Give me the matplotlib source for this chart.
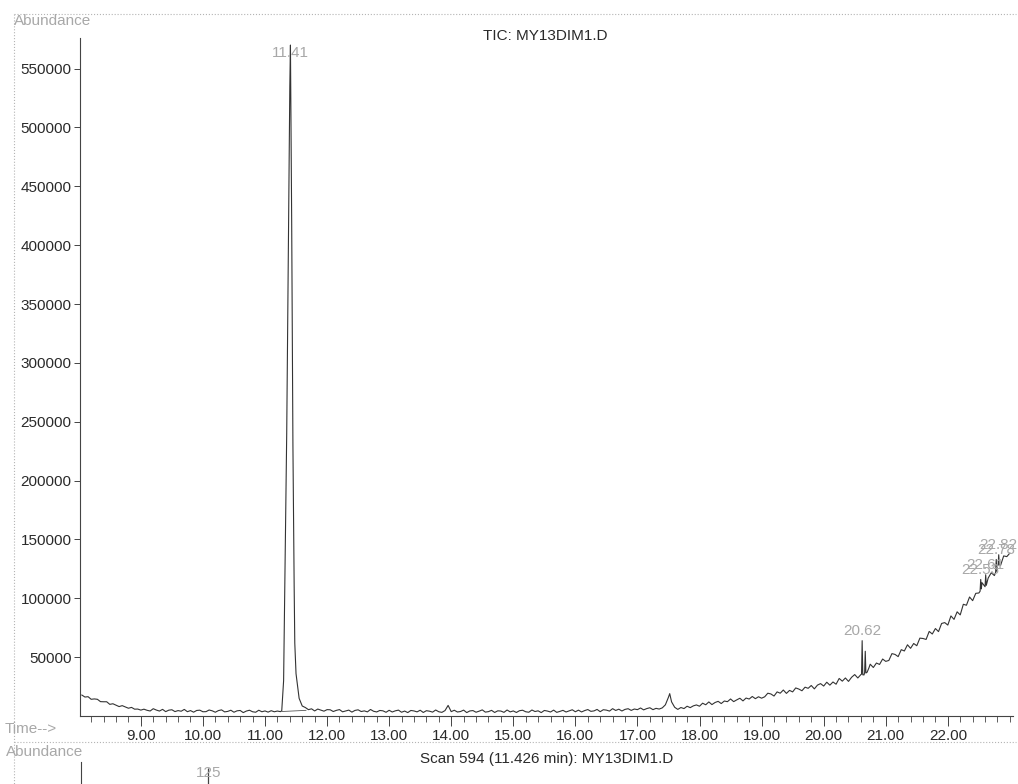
import matplotlib
matplotlib.use("Agg")
import matplotlib.pyplot as plt
from matplotlib.lines import Line2D
from matplotlib.ticker import MultipleLocator, FormatStrFormatter
import numpy as np

plt.rcParams['font.family'] = ['Liberation Sans', 'DejaVu Sans']

# TIC trace, one sample every 0.05 min starting at 8.05 min (one row per minute)
scan_start = 8.05
scan_step = 0.05
tic_08 = [17800, 16100, 16400, 14200, 14500, 14200, 12200, 12100, 12100, 9900,
          10400, 9200, 8000, 8800, 7700, 6600, 7300, 5800, 5900, 5000]
tic_09 = [5800, 4850, 4250, 6200, 5050, 4200, 5650, 3700, 4950, 5300,
          3750, 4600, 4050, 5600, 3650, 4600, 3250, 4700, 4950, 3600]
tic_10 = [3700, 5100, 4400, 3200, 4600, 5200, 3500, 3900, 4900, 3200,
          4400, 4700, 2900, 4200, 4900, 3600, 3200, 4900, 3600, 4300]
tic_11 = [3300, 4500, 3600, 4200, 3700, 30000, 240000, 535000, 230000, 36000,
          15000, 8500, 7200, 5400, 6100, 4300, 5900, 5000, 4100, 5400]
tic_12 = [5300, 3800, 4800, 5450, 3550, 4250, 5000, 3300, 4750, 5250,
          3800, 4350, 3500, 5550, 4000, 3450, 4700, 4400, 3150, 4850]
tic_13 = [3400, 4400, 5000, 3200, 4200, 2900, 4700, 4300, 3500, 4900,
          3000, 4500, 4100, 3300, 5100, 3600, 3100, 4600, 9000, 3700]
tic_14 = [4900, 3400, 3800, 5000, 2900, 4300, 4600, 3200, 4100, 5200,
          3300, 3700, 4800, 3000, 4400, 4200, 3100, 5100, 3500, 4300]
tic_15 = [3000, 4500, 4900, 3600, 3200, 5100, 3800, 4400, 2900, 4700,
          4200, 3400, 5000, 3100, 3900, 4800, 3400, 4400, 5300, 3600]
tic_16 = [4970, 3440, 4610, 5480, 3950, 4320, 5590, 3660, 5330, 5000,
          4170, 6240, 4710, 5780, 4250, 5620, 6190, 4760, 5930, 5400]
tic_17 = [6800, 5200, 6300, 7000, 5400, 6500, 5900, 6900, 9500, 16000,
          12000, 7400, 5600, 7200, 6300, 8300, 7100, 8600, 9400, 8300]
tic_18 = [10880, 9530, 11950, 9690, 11460, 12450, 10580, 12740, 12170, 14460,
          12200, 13710, 15090, 12830, 15250, 14420, 16580, 14710, 16350, 15130]
tic_19 = [16320, 19360, 18720, 16960, 20480, 19360, 22080, 19200, 21760, 20480,
          23840, 22880, 21440, 24480, 23520, 25920, 23040, 26240, 27520, 25440]
tic_20 = [28700, 26200, 28900, 27000, 31900, 29600, 32300, 29400, 32900, 35200,
          32300, 35200, 34900, 37200, 44000, 41200, 45000, 43800, 48400, 46400]
tic_21 = [47200, 53000, 52300, 50450, 56350, 55250, 60500, 57500, 61600, 59700,
          66150, 65850, 65050, 71850, 69650, 74300, 71700, 78600, 79350, 77250]
tic_22 = [85000, 82100, 88500, 85900, 94900, 94100, 101100, 98000, 104200, 104500,
          113300, 109800, 117200, 121700, 119300, 127800, 128000, 136000, 135400, 138400]

# extra samples on the sharp peaks
spike_times = [11.27, 11.41, 11.43, 11.47, 11.48, 17.52,
               20.61, 20.62, 20.63, 20.66, 20.67, 20.68, 20.73,
               22.52, 22.53, 22.54, 22.61, 22.62,
               22.77, 22.78, 22.79, 22.81, 22.82, 22.83]
spike_abundance = [4500, 570000, 420000, 110000, 62000, 19000,
                   35500, 64000, 35000, 37000, 55000, 36500, 41000,
                   106000, 116000, 108000, 120000, 111000,
                   122000, 133000, 123000, 128000, 137000, 128500]

# integration baseline under the main peak
integration_times = [11.27, 11.66]
integration_abundance = [3800, 4800]

# labelled retention times
peak_labels = [11.41, 20.62, 22.53, 22.61, 22.78, 22.82]

# mass spectrum of scan 594
ms_mz = [125]
ms_abundance = [9750]

x_ticks = [9, 10, 11, 12, 13, 14, 15, 16, 17, 18, 19, 20, 21, 22]
y_ticks = [50000, 100000, 150000, 200000, 250000, 300000,
           350000, 400000, 450000, 500000, 550000]

tic = (tic_08 + tic_09 + tic_10 + tic_11 + tic_12 + tic_13 + tic_14 + tic_15
       + tic_16 + tic_17 + tic_18 + tic_19 + tic_20 + tic_21 + tic_22)
grid_times = np.round(scan_start + scan_step * np.arange(len(tic)), 3)
times = np.concatenate([grid_times, spike_times])
abundance = np.concatenate([tic, spike_abundance])
order = np.argsort(times, kind='stable')
times, abundance = times[order], abundance[order]
spike_lookup = dict(zip(spike_times, spike_abundance))

W, H = 1018, 784
def fx(px):
    return px / W
def fy(py):
    return 1 - py / H

grey = '#a8a8a8'
ink = '#2a2a2a'

fig = plt.figure(figsize=(W / 100, H / 100), dpi=100)

# --- TIC panel ---
ax = fig.add_axes([fx(80), fy(716), fx(1013) - fx(80), fy(38) - fy(716)])
ax.plot(times, abundance, color='#333333', lw=0.8)
ax.plot(integration_times, integration_abundance, color='#555555', lw=0.6)

for rt in peak_labels:
    if rt == 11.41:
        ax.annotate(f'{rt:.2f}', (rt, spike_lookup[rt]), xytext=(0, -1),
                    textcoords='offset points', ha='center', va='top',
                    fontsize=11, color=grey)
    else:
        ax.annotate(f'{rt:.2f}', (rt, spike_lookup[rt]), xytext=(0, 2),
                    textcoords='offset points', ha='center', va='bottom',
                    fontsize=11, color=grey)

ax.set_xlim(8.02, 23.05)
ax.set_ylim(0, 576000)
ax.set_xticks(x_ticks)
ax.xaxis.set_minor_locator(MultipleLocator(0.2))
ax.xaxis.set_major_formatter(FormatStrFormatter('%.2f'))
ax.set_yticks(y_ticks)
ax.yaxis.set_major_formatter(FormatStrFormatter('%d'))

for side in ['top', 'right']:
    ax.spines[side].set_visible(False)
for side in ['left', 'bottom']:
    ax.spines[side].set_color('#444444')
    ax.spines[side].set_linewidth(0.8)

ax.tick_params(axis='y', direction='out', length=4, width=0.7, pad=2,
               labelsize=11, colors='#444444', labelcolor=ink)
ax.tick_params(axis='x', which='major', direction='out', length=7, width=0.7,
               pad=2, labelsize=11, colors='#444444', labelcolor=ink)
ax.tick_params(axis='x', which='minor', direction='out', length=4, width=0.6,
               colors='#444444')

# --- mass spectrum panel (only its top edge is on the page) ---
ax2 = fig.add_axes([fx(81), fy(762) - 0.3, fx(1013) - fx(81), 0.3])
ax2.vlines(ms_mz, 0, ms_abundance, color='#444444', lw=0.9)
for mz, ab in zip(ms_mz, ms_abundance):
    ax2.annotate(f'{mz}', (mz, ab), xytext=(0, 1), textcoords='offset points',
                 ha='center', va='top', fontsize=11, color=grey)
ax2.set_xlim(45, 630)
ax2.set_ylim(0, 10000)
for side in ['top', 'right', 'bottom']:
    ax2.spines[side].set_visible(False)
ax2.spines['left'].set_color('#444444')
ax2.spines['left'].set_linewidth(0.8)
ax2.set_xticks([])
ax2.set_yticks([])
ax2.patch.set_alpha(0)

# --- page text and frame ---
fig.text(fx(14), fy(21), 'Abundance', ha='left', va='center', fontsize=11, color=grey)
fig.text(fx(545), fy(36), 'TIC: MY13DIM1.D', ha='center', va='center', fontsize=11, color=ink)
fig.text(fx(5), fy(729), 'Time-->', ha='left', va='center', fontsize=11, color=grey)
fig.text(fx(6), fy(752), 'Abundance', ha='left', va='center', fontsize=11, color=grey)
fig.text(fx(547), fy(759), 'Scan 594 (11.426 min): MY13DIM1.D', ha='center',
         va='center', fontsize=11, color=ink)

frame_kw = dict(color='#b4b4b4', lw=0.8, ls=':')
fig.add_artist(Line2D([fx(14), fx(14)], [fy(14), 0], **frame_kw))
fig.add_artist(Line2D([fx(14), fx(1016)], [fy(14), fy(14)], **frame_kw))
fig.add_artist(Line2D([fx(14), fx(1016)], [fy(742), fy(742)], **frame_kw))

fig.savefig('out.png', dpi=100)
